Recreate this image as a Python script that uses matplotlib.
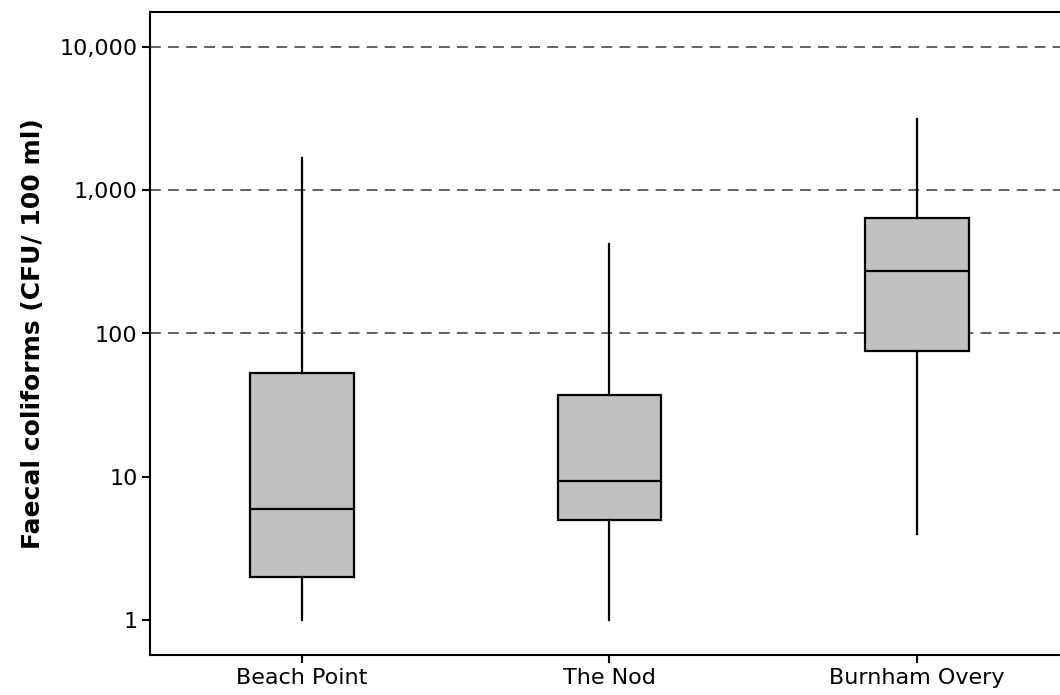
import matplotlib
matplotlib.use("Agg")
import matplotlib.pyplot as plt
from matplotlib.ticker import FixedLocator, NullLocator

sites = ["Beach Point", "The Nod", "Burnham Overy"]
whisker_low = [1, 1, 4]
q1 = [2.0, 5.0, 76]
median = [6.0, 9.3, 275]
q3 = [53, 37, 635]
whisker_high = [1680, 420, 3150]
ytick_vals = [1, 10, 100, 1000, 10000]
ytick_labels = ["1", "10", "100", "1,000", "10,000"]
grid_vals = [100, 1000, 10000]

plt.rcParams['font.family'] = ['DejaVu Sans']
W, H = 1060, 695
fig = plt.figure(figsize=(W / 100, H / 100), dpi=100)
left, right, top, bottom = 150, 1069, 12, 655
ax = fig.add_axes([left / W, 1 - bottom / H, (right - left) / W, (bottom - top) / H])

stats = []
for i, s in enumerate(sites):
    stats.append(dict(label=s, whislo=whisker_low[i], q1=q1[i], med=median[i],
                      q3=q3[i], whishi=whisker_high[i], fliers=[]))

ax.bxp(stats, positions=[1, 2, 3], widths=0.338, patch_artist=True, showcaps=False,
       boxprops=dict(facecolor="#c0c0c0", edgecolor="black", linewidth=1.6),
       medianprops=dict(color="black", linewidth=1.6),
       whiskerprops=dict(color="black", linewidth=1.6), zorder=3)

ax.set_yscale("log")
ax.set_ylim(10 ** -0.244, 10 ** 4.244)
ax.set_xlim(0.506, 3.494)
ax.yaxis.set_major_locator(FixedLocator(ytick_vals))
ax.set_yticklabels(ytick_labels)
ax.yaxis.set_minor_locator(NullLocator())
ax.set_xticks([1, 2, 3])
ax.set_xticklabels(sites)

for g in grid_vals:
    ax.axhline(g, color="#555555", linestyle=(0, (6, 4)), linewidth=1.3, zorder=1)

for sp in ax.spines.values():
    sp.set_linewidth(1.5)
ax.tick_params(axis="both", direction="out", length=6, width=1.5, labelsize=16, pad=3)
ax.set_ylabel("Faecal coliforms (CFU/ 100 ml)", fontsize=18, fontweight="bold", labelpad=10)

fig.savefig("out.png", dpi=100)
